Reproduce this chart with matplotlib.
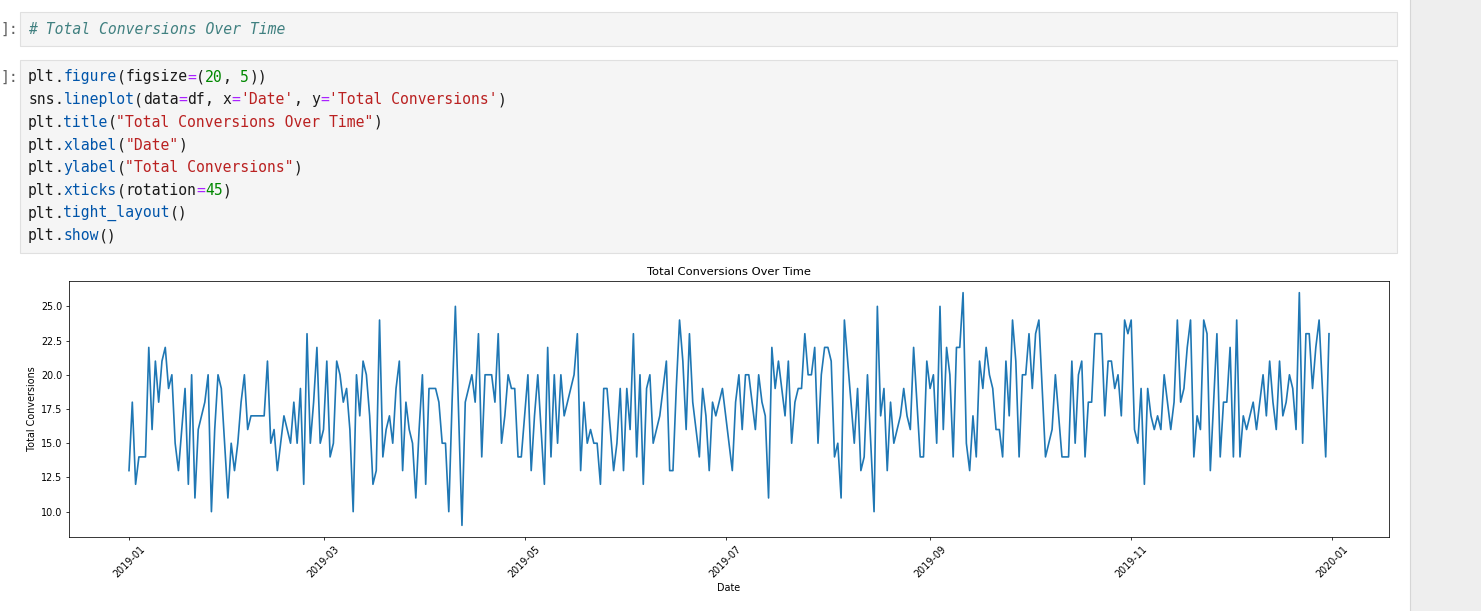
import matplotlib
matplotlib.use("Agg")
import matplotlib.pyplot as plt
import matplotlib.dates as mdates
from matplotlib.patches import Rectangle
import pandas as pd

# ---------------- data (daily Total Conversions, 2019) ----------------
start_date = "2019-01-01"
q1 = [13, 18, 12, 14, 14, 14, 22, 16, 21, 18, 21, 22, 19, 20, 15, 13, 16, 19, 12, 20,
      11, 16, 17, 18, 20, 10, 16, 20, 19, 15,
      11, 15, 13, 15, 18, 20, 16, 17, 17, 17, 17, 17, 21, 15, 16, 13, 15, 17, 16, 15,
      18, 15, 19, 12, 23, 15, 18, 22, 15,
      16, 21, 14, 15, 21, 20, 18, 19, 16, 10, 20, 17, 21, 20, 17, 12, 13, 24, 14, 16,
      17, 15, 19, 21, 13, 18, 16, 15, 11, 16, 20]
q2 = [12, 19, 19, 19, 18, 15, 15, 10, 18, 25, 17, 9, 18, 19, 20, 18, 23, 14, 20, 20,
      20, 18, 23, 15, 17, 20, 19, 19, 14, 14,
      17, 20, 13, 17, 20, 16, 12, 22, 14, 20, 15, 20, 17, 18, 19, 20, 23, 13, 18, 15,
      16, 15, 15, 12, 19, 19, 16, 13, 15, 19, 13,
      19, 16, 23, 14, 20, 12, 19, 20, 15, 16, 17, 19, 21, 13, 13, 19, 24, 21, 16, 23,
      18, 16, 14, 19, 17, 13, 18, 17, 18, 19]
q3 = [17, 15, 13, 18, 20, 16, 20, 20, 18, 16, 20, 18, 17, 11, 22, 19, 21, 19, 17, 21,
      15, 18, 19, 19, 23, 20, 20, 22, 15, 20,
      22, 22, 21, 14, 15, 11, 24, 21, 18, 15, 19, 13, 14, 20, 15, 10, 25, 17, 19, 13,
      18, 15, 16, 17, 19, 17, 16, 22, 18,
      14, 14, 21, 19, 20, 15, 25, 16, 22, 20, 14, 22, 22, 26, 15, 13, 17, 14, 21, 19,
      22, 20, 19, 16, 16, 14, 21, 17, 24, 21, 14,
      20, 20]
q4 = [23, 19, 23, 24, 19, 14, 15, 16, 20, 17, 14, 14, 14, 21, 15, 20, 21, 14, 18, 18,
      23, 23, 23, 17, 21, 21, 19, 20, 17,
      24, 23, 24, 16, 15, 19, 12, 19, 17, 16, 17, 16, 20, 18, 16, 18, 24, 18, 19, 22,
      24, 14, 17, 16, 24, 23, 13, 18, 23, 14,
      18, 18, 22, 14, 24, 14, 17, 16, 17, 18, 16, 18, 20, 17, 21, 18, 16, 21, 17, 18,
      20, 19, 16, 26, 15, 23, 23, 19, 22, 24, 19, 14, 23]

conversions = q1 + q2 + q3 + q4
dates = pd.date_range(start_date, periods=len(conversions), freq="D")
df = pd.DataFrame({"Date": dates, "Total Conversions": conversions})

title_text = "Total Conversions Over Time"
xlabel_text = "Date"
ylabel_text = "Total Conversions"

comment_line = "# Total Conversions Over Time"
# code lines as (text, colour) segments
C_VAR = "#1a1a1a"
C_PROP = "#0055aa"
C_OP = "#aa22ff"
C_NUM = "#008800"
C_STR = "#ba2121"
code_lines = [
    [("plt", C_VAR), (".", C_VAR), ("figure", C_PROP), ("(", C_VAR), ("figsize", C_VAR),
     ("=", C_OP), ("(", C_VAR), ("20", C_NUM), (", ", C_VAR), ("5", C_NUM), ("))", C_VAR)],
    [("sns", C_VAR), (".", C_VAR), ("lineplot", C_PROP), ("(", C_VAR), ("data", C_VAR),
     ("=", C_OP), ("df", C_VAR), (", ", C_VAR), ("x", C_VAR), ("=", C_OP),
     ("'Date'", C_STR), (", ", C_VAR), ("y", C_VAR), ("=", C_OP),
     ("'Total Conversions'", C_STR), (")", C_VAR)],
    [("plt", C_VAR), (".", C_VAR), ("title", C_PROP), ("(", C_VAR),
     ('"Total Conversions Over Time"', C_STR), (")", C_VAR)],
    [("plt", C_VAR), (".", C_VAR), ("xlabel", C_PROP), ("(", C_VAR), ('"Date"', C_STR),
     (")", C_VAR)],
    [("plt", C_VAR), (".", C_VAR), ("ylabel", C_PROP), ("(", C_VAR),
     ('"Total Conversions"', C_STR), (")", C_VAR)],
    [("plt", C_VAR), (".", C_VAR), ("xticks", C_PROP), ("(", C_VAR), ("rotation", C_VAR),
     ("=", C_OP), ("45", C_NUM), (")", C_VAR)],
    [("plt", C_VAR), (".", C_VAR), ("tight_layout", C_PROP), ("()", C_VAR)],
    [("plt", C_VAR), (".", C_VAR), ("show", C_PROP), ("()", C_VAR)],
]

# ---------------- figure ----------------
W, H = 1481, 611
fig = plt.figure(figsize=(W / 100, H / 100), dpi=100)
fig.patch.set_facecolor("white")


def fx(x):
    return x / W


def fy(y):
    return 1 - y / H


def rect(x0, y0, x1, y1, fc, ec, lw=1.0):
    fig.add_artist(Rectangle((fx(x0), fy(y1)), fx(x1) - fx(x0), fy(y0) - fy(y1),
                             transform=fig.transFigure, facecolor=fc, edgecolor=ec,
                             linewidth=lw))


def prompt(y):
    # the visible tail of the cell prompt: "]:"
    fig.text(fx(0.6), fy(y), "]:", ha="left", va="center", fontsize=10.6,
             family="DejaVu Sans Mono", color="#616161")


# right-hand side panel
rect(1410, -2, 1483, 613, "#eeeeee", "#d6d6d6", 0.8)

# cell 1 (comment)
rect(20, 12, 1397, 46, "#f5f5f5", "#e0e0e0", 0.8)
prompt(29)
fig.text(fx(28), fy(29), comment_line, ha="left", va="center", fontsize=10.6,
         family="DejaVu Sans Mono", style="italic", color="#408080")

# cell 2 (code)
rect(20, 60, 1397, 253, "#f5f5f5", "#e0e0e0", 0.8)
prompt(77)
char_w = 8.85
line_y0 = 77
line_dy = 22.7
for i, segs in enumerate(code_lines):
    col = 0
    y = line_y0 + i * line_dy
    for txt, colr in segs:
        fig.text(fx(28 + col * char_w), fy(y), txt, ha="left", va="center",
                 fontsize=10.6, family="DejaVu Sans Mono", color=colr)
        col += len(txt)

# ---------------- chart output ----------------
s = 0.69  # display scale of the notebook output
ax_l, ax_r, ax_t, ax_b = 69, 1389, 281, 537
ax = fig.add_axes([fx(ax_l), fy(ax_b), fx(ax_r) - fx(ax_l), fy(ax_t) - fy(ax_b)])
ax.plot(df["Date"], df["Total Conversions"], color="#1f77b4", linewidth=1.2)
ax.set_title(title_text, fontsize=12 * s, pad=6 * s)
ax.set_xlabel(xlabel_text, fontsize=10 * s, labelpad=4 * s)
ax.set_ylabel(ylabel_text, fontsize=10 * s, labelpad=4 * s)
ax.xaxis.set_major_locator(mdates.MonthLocator(interval=2))
ax.xaxis.set_major_formatter(mdates.DateFormatter("%Y-%m"))
ax.tick_params(axis="both", labelsize=10 * s, length=3.5 * s, width=0.8 * s,
               pad=3.5 * s)
for lab in ax.get_xticklabels():
    lab.set_rotation(45)
for sp in ax.spines.values():
    sp.set_linewidth(0.8 * s)

fig.savefig("out.png", dpi=100)
